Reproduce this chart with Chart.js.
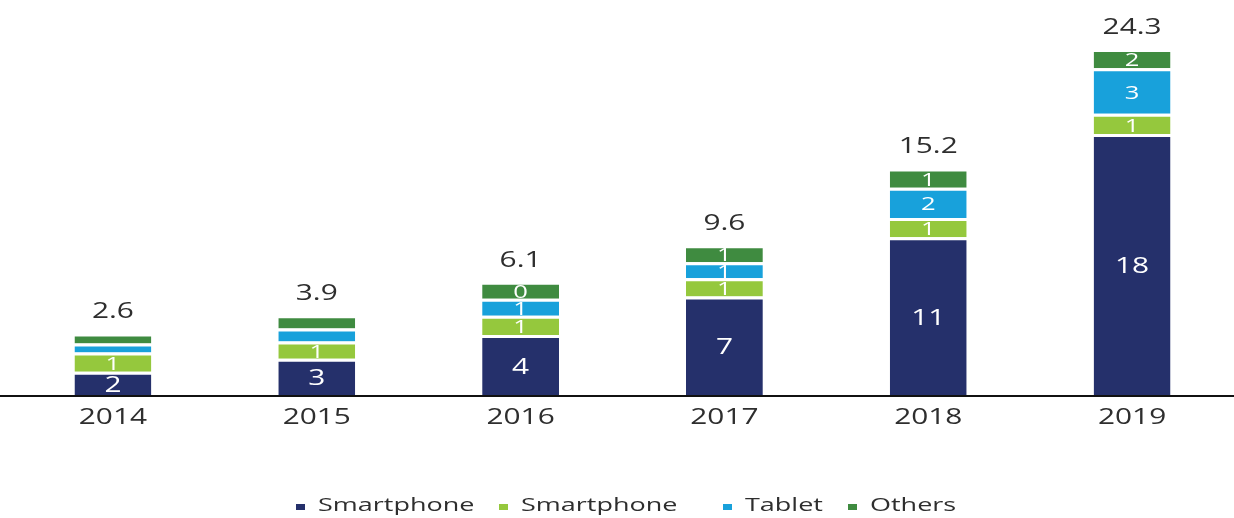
<!DOCTYPE html>
<html>
<head>
<meta charset="utf-8">
<script src="https://cdn.jsdelivr.net/npm/chart.js@4.4.1/dist/chart.umd.min.js"></script>
<style>
  html, body { margin: 0; padding: 0; background: #fff; }
  #wrap { width: 1234px; height: 518px; }
</style>
</head>
<body>
<div id="wrap"><canvas id="devices"></canvas></div>
<script>
// categories and values
const years = ['2014', '2015', '2016', '2017', '2018', '2019'];
const phoneA = [1.63, 2.55, 4.2, 6.9, 11.06, 18.3];
const phoneB = [1.35, 1.2, 1.35, 1.28, 1.35, 1.42];
const tablet = [0.64, 0.92, 1.2, 1.13, 2.13, 3.2];
const others = [0.7, 0.92, 1.2, 1.2, 1.35, 1.35];

// printed numbers
const phoneALabels = ['2', '3', '4', '7', '11', '18'];
const phoneBLabels = ['1', '1', '1', '1', '1', '1'];
const tabletLabels = ['', '', '1', '1', '2', '3'];
const othersLabels = ['', '', '0', '1', '1', '2'];
const totals = ['2.6', '3.9', '6.1', '9.6', '15.2', '24.3'];

const FONT = "'Open Sans', 'DejaVu Sans', sans-serif";
const TEXT = '#2e2e2e';
const SX = 1.42; // the reference text is drawn wide

// legend item left edges (marker), as in the picture
const legendX = [296, 499, 723, 848];

function wideText(ctx, txt, x, y, align) {
  ctx.save();
  ctx.translate(x, y);
  ctx.scale(SX, 1);
  ctx.textAlign = align || 'center';
  ctx.fillText(txt, 0, 0);
  ctx.restore();
}

// segment numbers, totals, year labels, legend and the long base line
const labelPlugin = {
  id: 'labelPlugin',
  afterDatasetsDraw(chart) {
    const ctx = chart.ctx;
    const y0 = chart.scales.y.getPixelForValue(0);
    ctx.save();
    ctx.strokeStyle = '#111';
    ctx.lineWidth = 2;
    ctx.beginPath();
    ctx.moveTo(0, y0 + 1);
    ctx.lineTo(chart.width, y0 + 1);
    ctx.stroke();

    ctx.textBaseline = 'middle';
    chart.data.datasets.forEach((ds, i) => {
      const meta = chart.getDatasetMeta(i);
      meta.data.forEach((bar, j) => {
        const txt = ds.segLabels[j];
        if (!txt) return;
        ctx.fillStyle = '#ffffff';
        ctx.font = (i === 0 ? '21px ' : '18px ') + FONT;
        wideText(ctx, txt, bar.x, (bar.y + 3 + bar.base) / 2 + 1);
      });
    });

    const top = chart.getDatasetMeta(chart.data.datasets.length - 1);
    ctx.fillStyle = TEXT;
    ctx.font = '21px ' + FONT;
    top.data.forEach((bar, j) => {
      wideText(ctx, totals[j], bar.x, bar.y - 21);
    });

    const xs = chart.scales.x;
    chart.data.labels.forEach((lab, j) => {
      wideText(ctx, lab, xs.getPixelForValue(j), y0 + 23);
    });

    // legend
    ctx.font = '19px ' + FONT;
    chart.data.datasets.forEach((ds, i) => {
      const lx = legendX[i];
      ctx.fillStyle = ds.backgroundColor;
      ctx.fillRect(lx, 504, 9, 6);
      ctx.fillStyle = TEXT;
      wideText(ctx, ds.label, lx + 22, 506, 'left');
    });
    ctx.restore();
  }
};

function makeSet(label, data, color, segLabels) {
  return {
    label: label,
    data: data,
    segLabels: segLabels,
    backgroundColor: color,
    borderColor: '#ffffff',
    borderWidth: { top: 3, right: 0, bottom: 0, left: 0 },
    borderSkipped: false,
    barPercentage: 0.377,
    categoryPercentage: 1
  };
}

const ctx = document.getElementById('devices').getContext('2d');
new Chart(ctx, {
  type: 'bar',
  data: {
    labels: years,
    datasets: [
      makeSet('Smartphone', phoneA, '#25306b', phoneALabels),
      makeSet('Smartphone', phoneB, '#95c83d', phoneBLabels),
      makeSet('Tablet', tablet, '#18a1db', tabletLabels),
      makeSet('Others', others, '#3f8b40', othersLabels)
    ]
  },
  options: {
    responsive: true,
    maintainAspectRatio: false,
    animation: false,
    layout: { padding: { left: 11, right: 0, top: 0, bottom: 123 } },
    scales: {
      x: {
        stacked: true,
        display: false
      },
      y: {
        stacked: true,
        display: false,
        min: 0,
        max: 27.7
      }
    },
    plugins: {
      legend: { display: false },
      tooltip: { enabled: false }
    }
  },
  plugins: [labelPlugin]
});
</script>
</body>
</html>
